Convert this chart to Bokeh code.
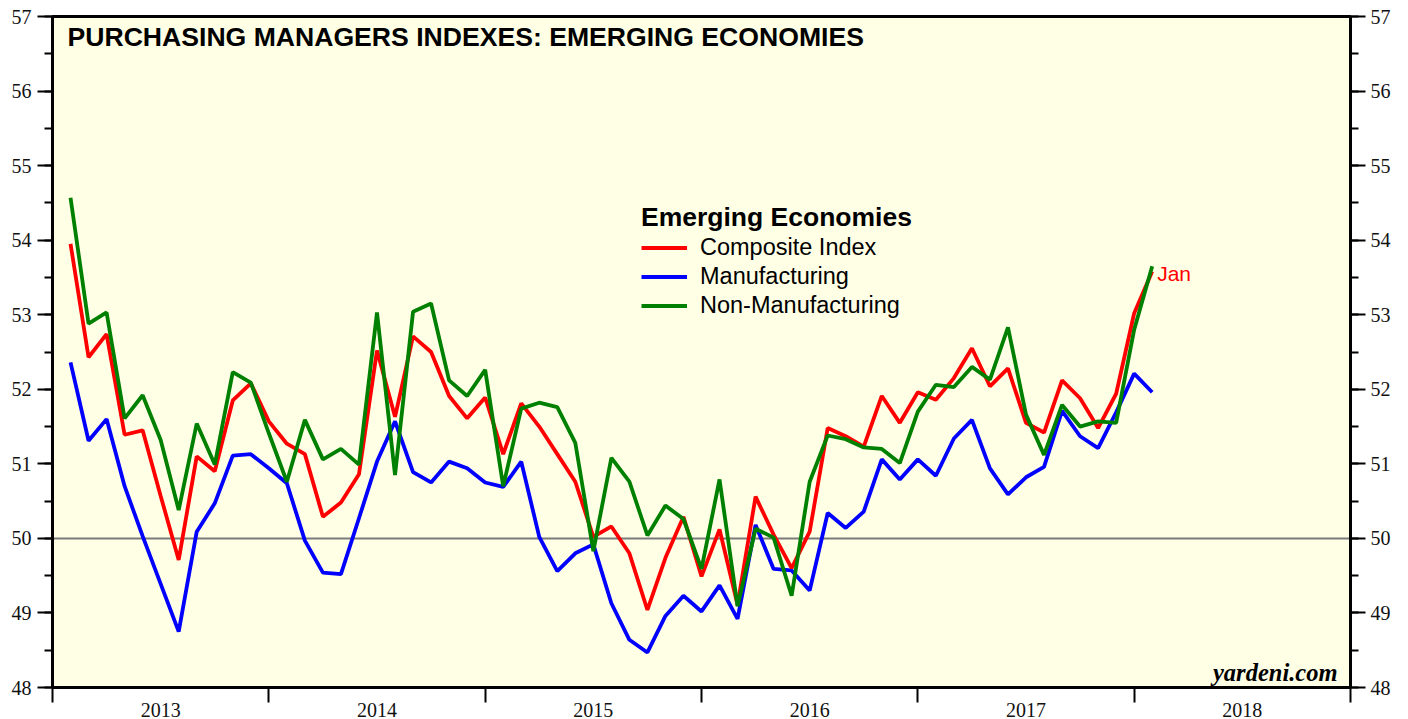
import pandas as pd
from bokeh.plotting import figure
from bokeh.models import (FixedTicker, SingleIntervalTicker, LinearAxis, Span,
                          Label, Legend, LegendItem, Range1d)
from bokeh.embed import file_html
from bokeh.resources import INLINE

# ---------------- data ----------------
months = pd.date_range("2013-01-31", periods=61, freq="ME")

composite = [53.95, 52.43, 52.74, 51.39, 51.45, 50.57, 49.71, 51.10, 50.90, 51.85, 52.08, 51.57,
             51.27, 51.13, 50.29, 50.48, 50.86, 52.52, 51.63, 52.71, 52.50, 51.91, 51.61, 51.89,
             51.13, 51.81, 51.50, 51.13, 50.76, 50.02, 50.16, 49.80, 49.04, 49.74, 50.29, 49.49,
             50.12, 49.11, 50.56, 50.05, 49.60, 50.09, 51.48, 51.37, 51.23, 51.91, 51.55, 51.96,
             51.86, 52.15, 52.55, 52.04, 52.28, 51.55, 51.42, 52.12, 51.88, 51.48, 51.94, 53.02,
             53.58]

manufacturing = [52.36, 51.31, 51.60, 50.70, 50.03, 49.39, 48.75, 50.09, 50.47, 51.11, 51.13, 50.94,
                 50.74, 49.97, 49.54, 49.52, 50.27, 51.03, 51.57, 50.89, 50.75, 51.03, 50.94, 50.75,
                 50.69, 51.03, 50.02, 49.56, 49.80, 49.92, 49.13, 48.64, 48.47, 48.96, 49.23, 49.02,
                 49.37, 48.92, 50.18, 49.59, 49.57, 49.30, 50.34, 50.14, 50.36, 51.06, 50.79, 51.06,
                 50.84, 51.34, 51.59, 50.94, 50.59, 50.82, 50.96, 51.71, 51.37, 51.21, 51.69, 52.21,
                 51.96]

non_manufacturing = [54.57, 52.88, 53.03, 51.61, 51.92, 51.32, 50.38, 51.54, 50.99, 52.23, 52.09, 51.41,
                     50.76, 51.59, 51.06, 51.20, 50.99, 53.03, 50.85, 53.04, 53.15, 52.12, 51.91, 52.26,
                     50.70, 51.74, 51.82, 51.76, 51.28, 49.83, 51.08, 50.76, 50.04, 50.44, 50.26, 49.59,
                     50.79, 49.09, 50.13, 50.01, 49.23, 50.76, 51.38, 51.33, 51.22, 51.20, 51.01, 51.70,
                     52.06, 52.03, 52.30, 52.13, 52.83, 51.66, 51.12, 51.79, 51.50, 51.57, 51.55, 52.80,
                     53.65]

years = [2013, 2014, 2015, 2016, 2017, 2018]
year_labels = ["2013", "2014", "2015", "2016", "2017", "2018"]
last_label = "Jan"

# x in months since start of 2013 (month-end positions)
xs = [(d.year - years[0]) * 12 + d.month for d in months]

SANS = "Liberation Sans"
SERIF = "Liberation Serif"

p = figure(width=1408, height=719,
           x_range=Range1d(0, 12 * len(years)), y_range=Range1d(48, 57),
           output_backend="svg", toolbar_location=None,
           min_border_left=52, min_border_right=58, min_border_top=16, min_border_bottom=31)

p.background_fill_color = "#FFFFE6"
p.border_fill_color = "white"
p.outline_line_color = "black"
p.outline_line_width = 3
p.grid.visible = False

# 50 reference line
p.add_layout(Span(location=50, dimension="width", line_color="#7a7a7a",
                  line_width=2, level="underlay"))

r_m = p.line(xs, manufacturing, line_color="#0000FF", line_width=3.8)
r_c = p.line(xs, composite, line_color="#FF0000", line_width=3.8)
r_n = p.line(xs, non_manufacturing, line_color="#008000", line_width=3.8)

# ---------- x axis ----------
xa = p.xaxis[0]
mid = [12 * k + 6 for k in range(len(years))]
xa.ticker = FixedTicker(ticks=mid, minor_ticks=[12 * k for k in range(len(years) + 1)])
xa.major_label_overrides = {m: lab for m, lab in zip(mid, year_labels)}
xa.major_tick_out = 0
xa.major_tick_in = 0
xa.minor_tick_out = 15
xa.minor_tick_in = 0
xa.minor_tick_line_width = 2
xa.minor_tick_line_color = "black"
xa.axis_line_width = 3
xa.axis_line_color = "black"
xa.major_label_standoff = 0
xa.major_label_text_line_height = 1.0
xa.major_label_text_font = SERIF
xa.major_label_text_font_size = "20px"
xa.major_label_text_color = "#111111"

# ---------- y axes ----------
def style_y(ax, standoff):
    ax.ticker = SingleIntervalTicker(interval=1, num_minor_ticks=2)
    ax.major_tick_out = 15
    ax.major_tick_in = 0
    ax.minor_tick_out = 8
    ax.minor_tick_in = 0
    ax.major_tick_line_width = 2
    ax.minor_tick_line_width = 2
    ax.major_tick_line_color = "black"
    ax.minor_tick_line_color = "black"
    ax.axis_line_width = 3
    ax.axis_line_color = "black"
    ax.major_label_standoff = standoff
    ax.major_label_text_font = SERIF
    ax.major_label_text_font_size = "20px"
    ax.major_label_text_color = "#111111"

style_y(p.yaxis[0], 6)
ra = LinearAxis()
style_y(ra, 5)
p.add_layout(ra, "right")

# ---------- legend ----------
legend = Legend(items=[LegendItem(label="Composite Index", renderers=[r_c]),
                       LegendItem(label="Manufacturing", renderers=[r_m]),
                       LegendItem(label="Non-Manufacturing", renderers=[r_n])],
                location=(589, 367), title="Emerging Economies",
                title_text_font=SANS, title_text_font_style="bold",
                title_text_font_size="26.5px", title_standoff=0,
                title_text_color="black",
                label_text_font=SANS, label_text_font_size="23.5px",
                label_text_color="black",
                label_standoff=13, glyph_width=46, glyph_height=29,
                label_height=29, spacing=0, padding=0, margin=0,
                background_fill_alpha=0, border_line_alpha=0)
p.add_layout(legend)

# ---------- texts ----------
p.add_layout(Label(x=15, y=666, x_units="screen", y_units="screen",
                   text="PURCHASING MANAGERS INDEXES: EMERGING ECONOMIES",
                   text_baseline="top", text_font=SANS, text_font_style="bold",
                   text_font_size="26.6px", text_color="black"))

p.add_layout(Label(x=xs[-1], y=composite[-1], text=last_label, x_offset=5, y_offset=-2,
                   text_baseline="middle", text_font=SANS, text_font_size="21px",
                   text_color="#FF0000"))

p.add_layout(Label(x=1285, y=15, x_units="screen", y_units="screen",
                   text="yardeni.com", text_align="right", text_baseline="alphabetic",
                   text_font=SERIF, text_font_style="bold italic",
                   text_font_size="24.5px", text_color="black"))

open("out.html", "w").write(file_html(p, INLINE))
